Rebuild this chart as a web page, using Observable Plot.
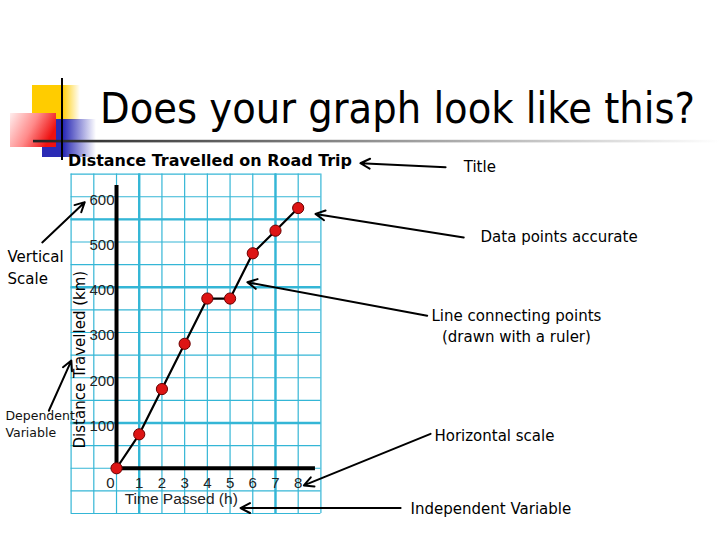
<!DOCTYPE html>
<html>
<head>
<meta charset="utf-8">
<script src="https://cdn.jsdelivr.net/npm/d3@7"></script>
<script src="https://cdn.jsdelivr.net/npm/@observablehq/plot@0.6"></script>
<style>
html, body { margin: 0; padding: 0; background: #fff; }
#wrap { position: relative; width: 720px; height: 540px; overflow: hidden; background: #fff; }
#wrap > svg { position: absolute; left: 0; top: 0; }
</style>
</head>
<body>
<div id="wrap"></div>
<script>
// ---- data ----
const hours = [0, 1, 2, 3, 4, 5, 6, 7, 8];
const distance = [0, 75, 175, 275, 375, 375, 475, 525, 575];
const xTickLabels = [1, 2, 3, 4, 5, 6, 7, 8];
const xZeroLabel = [0];
const yTickLabels = [100, 200, 300, 400, 500, 600];
const xGridMinor = [-2, -1, 0, 1, 2, 3, 4, 5, 6, 7, 8, 9];
const xGridMajor = [1, 7];
const yGridMinor = [-100, -50, 0, 50, 100, 150, 200, 250, 300, 350, 400, 450, 500, 550, 600, 650];
const yGridMajor = [100, 400, 550];

const chartTitle = "Does your graph look like this?";
const chartSubtitle = "Distance Travelled on Road Trip";
const xAxisTitle = ["Time Passed (h)"];
const yAxisTitle = ["Distance Travelled (km)"];

// annotations in data coordinates (hours, km)
const annotArrows = [
  {x1: 14.49, y1: 665, x2: 10.74, y2: 674},
  {x1: 15.29, y1: 510, x2: 8.76, y2: 562},
  {x1: 13.68, y1: 337, x2: 5.76, y2: 411},
  {x1: 13.83, y1: 76, x2: 8.25, y2: -38},
  {x1: 12.51, y1: -88, x2: 5.46, y2: -88},
  {x1: -3.27, y1: 499, x2: -1.40, y2: 588},
  {x1: -2.98, y1: 127, x2: -1.99, y2: 238}
];
const annotLabelsStart = [
  {x: 15.29, y: 654, text: "Title"},
  {x: 16.03, y: 499, text: "Data points accurate"},
  {x: 14.0, y: 61, text: "Horizontal scale"},
  {x: 12.95, y: -100, text: "Independent Variable"},
  {x: -4.80, y: 408, text: "Vertical\nScale"}
];
const annotLabelsMiddle = [
  {x: 17.61, y: 278.5, text: "Line connecting points\n(drawn with a ruler)"}
];
const annotSmall = [
  {x: -4.89, y: 70, text: "Dependent\nVariable"}
];
const xTitlePos = {x: 2.85, y: -69};
const yTitlePos = {x: -1.585, y: 240};
const axisTopKm = 625;
const axisRightH = 8.76;

const points = hours.map((h, i) => ({h, d: distance[i]}));

const gridColor = "#34b6d6";
const tickFont = "'Liberation Sans', Arial, sans-serif";
const noteFont = "'DejaVu Sans', Verdana, sans-serif";

const plot = Plot.plot({
  width: 720,
  height: 540,
  marginLeft: 70.6,
  marginRight: 399.6,
  marginTop: 173.6,
  marginBottom: 27,
  x: {domain: [-2, 9], axis: null},
  y: {domain: [-100, 650], axis: null},
  style: {background: "transparent", overflow: "visible"},
  marks: [
    Plot.ruleX(xGridMinor, {x: d => d, stroke: gridColor, strokeWidth: 1.2}),
    Plot.ruleY(yGridMinor, {y: d => d, stroke: gridColor, strokeWidth: 1.2}),
    Plot.ruleX(xGridMajor, {x: d => d, stroke: gridColor, strokeWidth: 2.4}),
    Plot.ruleY(yGridMajor, {y: d => d, stroke: gridColor, strokeWidth: 2.4}),
    // axis lines
    Plot.ruleX([0], {x: d => d, y1: 0, y2: axisTopKm, stroke: "#000", strokeWidth: 4}),
    Plot.ruleY([0], {y: d => d, x1: 0, x2: axisRightH, stroke: "#000", strokeWidth: 4}),
    // tick labels
    Plot.text(yTickLabels, {x: 0, y: d => d, text: d => String(d), textAnchor: "end", dx: -2, dy: 3,
      fontFamily: tickFont, fontSize: 15, fill: "#222"}),
    Plot.text(xTickLabels, {x: d => d, y: 0, text: d => String(d), dy: 15,
      fontFamily: tickFont, fontSize: 15, fill: "#222"}),
    Plot.text(xZeroLabel, {x: d => d, y: 0, text: d => String(d), dx: -6, dy: 15,
      fontFamily: tickFont, fontSize: 15, fill: "#222"}),
    // axis titles
    Plot.text(xAxisTitle, {x: xTitlePos.x, y: xTitlePos.y, text: d => d,
      fontFamily: tickFont, fontSize: 15.5, fill: "#222"}),
    Plot.text(yAxisTitle, {x: yTitlePos.x, y: yTitlePos.y, text: d => d, rotate: -90,
      fontFamily: noteFont, fontSize: 15, fill: "#000"}),
    // data
    Plot.line(points, {x: "h", y: "d", stroke: "#000", strokeWidth: 2.2}),
    Plot.dot(points, {x: "h", y: "d", r: 5.6, fill: "#dd1414", stroke: "#6a0000", strokeWidth: 1}),
    // annotations
    Plot.arrow(annotArrows, {x1: "x1", y1: "y1", x2: "x2", y2: "y2", stroke: "#000",
      strokeWidth: 2, headLength: 8, headAngle: 55}),
    Plot.text(annotLabelsStart, {x: "x", y: "y", text: "text", textAnchor: "start",
      lineAnchor: "bottom", lineHeight: 1.42, fontFamily: noteFont, fontSize: 15, fill: "#000"}),
    Plot.text(annotLabelsMiddle, {x: "x", y: "y", text: "text", textAnchor: "middle",
      lineAnchor: "bottom", lineHeight: 1.42, fontFamily: noteFont, fontSize: 15, fill: "#000"}),
    Plot.text(annotSmall, {x: "x", y: "y", text: "text", textAnchor: "start",
      lineAnchor: "bottom", lineHeight: 1.3, fontFamily: noteFont, fontSize: 12.5, fill: "#111"})
  ]
});

const wrap = document.getElementById("wrap");
wrap.appendChild(plot);

// slide decorations and titles
const ns = "http://www.w3.org/2000/svg";
const deco = document.createElementNS(ns, "svg");
deco.setAttribute("width", 720);
deco.setAttribute("height", 540);
deco.style.pointerEvents = "none";
deco.innerHTML = `
<defs>
  <linearGradient id="gy" x1="0" x2="1" y1="0" y2="0">
    <stop offset="0" stop-color="#ffcc00"/>
    <stop offset="0.62" stop-color="#ffcc00"/>
    <stop offset="1" stop-color="#ffcc00" stop-opacity="0"/>
  </linearGradient>
  <linearGradient id="gb" x1="0" x2="1" y1="0" y2="0">
    <stop offset="0" stop-color="#2b2bb5"/>
    <stop offset="0.4" stop-color="#2b2bb5"/>
    <stop offset="1" stop-color="#2b2bb5" stop-opacity="0"/>
  </linearGradient>
  <linearGradient id="gr" x1="0" x2="1" y1="0" y2="0.4">
    <stop offset="0" stop-color="#ffeeee"/>
    <stop offset="0.55" stop-color="#ff8a8a"/>
    <stop offset="1" stop-color="#ee1111"/>
  </linearGradient>
  <linearGradient id="gl" x1="0" x2="1" y1="0" y2="0">
    <stop offset="0" stop-color="#222"/>
    <stop offset="0.45" stop-color="#888"/>
    <stop offset="1" stop-color="#fff"/>
  </linearGradient>
</defs>
<rect x="32" y="85" width="48" height="35" fill="url(#gy)"/>
<rect x="42" y="119" width="54" height="38" fill="url(#gb)"/>
<rect x="10" y="113" width="46" height="34" fill="url(#gr)"/>
<rect x="33" y="139.8" width="687" height="2.6" fill="url(#gl)"/>
<line x1="62" y1="78" x2="62" y2="160" stroke="#000" stroke-width="2"/>
<text transform="translate(100,123) scale(1,1.09)" x="0" y="0" font-family="'DejaVu Sans', Verdana, sans-serif" font-size="38.5" fill="#000"
  textLength="595" lengthAdjust="spacingAndGlyphs">${chartTitle}</text>
<text x="68" y="165.5" font-family="'DejaVu Sans', Verdana, sans-serif" font-size="15" font-weight="bold" fill="#000"
  textLength="284" lengthAdjust="spacingAndGlyphs">${chartSubtitle}</text>
`;
wrap.appendChild(deco);
</script>
</body>
</html>
